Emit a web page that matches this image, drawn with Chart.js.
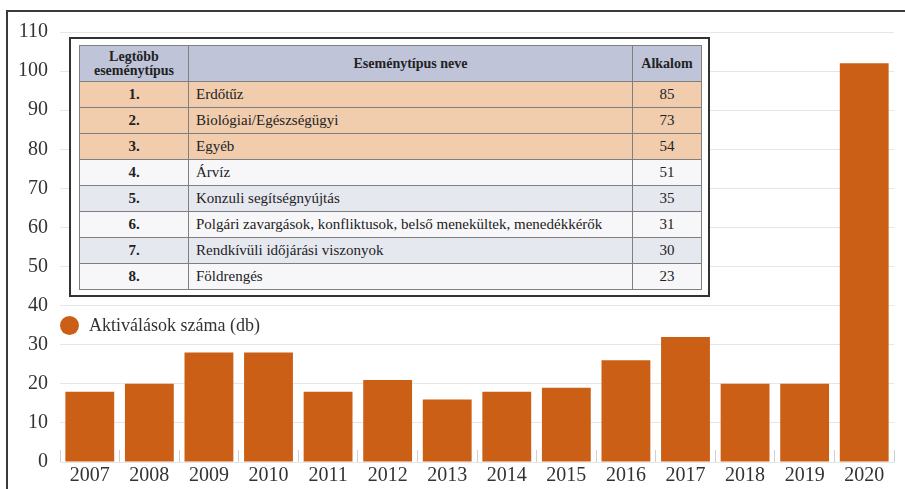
<!DOCTYPE html>
<html>
<head>
<meta charset="utf-8">
<script src="https://cdn.jsdelivr.net/npm/chart.js@4"></script>
<style>
  html, body { margin: 0; padding: 0; background: #fff; }
  body { width: 905px; height: 489px; position: relative; overflow: hidden; font-family: "Liberation Serif", "Times New Roman", serif; }
  #frame { position: absolute; left: 6px; top: 10px; width: 920px; height: 500px; border-left: 2px solid #3a3a3a; border-top: 2px solid #3a3a3a; }
  #wrap { position: absolute; left: 0; top: 0; width: 905px; height: 489px; }
  #legend { position: absolute; left: 60px; top: 315px; height: 20px; display: flex; align-items: center; font-size: 18px; color: #333; }
  #legend .dot { width: 19px; height: 19px; border-radius: 50%; background: #cb5f15; margin-right: 10px; }
  #tablebox { position: absolute; left: 69px; top: 37px; width: 637px; height: 256px; border: 2px solid #333; background: #fff; }
  #events { position: absolute; left: 8px; top: 6px; width: 623px; border-collapse: collapse; font-family: "Liberation Serif", "Times New Roman", serif; font-size: 15px; color: #222; }
  #events td, #events th { border: 1px solid #7f7f7f; padding: 0 7px; height: 25px; font-family: "Liberation Serif", "Times New Roman", serif; }
  #events th { background: #bfc4d9; font-weight: bold; font-size: 14px; line-height: 14px; height: 35px; text-align: center; }
  #events td.rank { font-weight: bold; text-align: center; width: 94px; }
  #events td.cnt { text-align: center; width: 54px; }
  #events tr.top td { background: #f1cdae; }
  #events tr.odd td { background: #f7f7fa; }
  #events tr.even td { background: #e6e8f0; }
</style>
</head>
<body>
<div id="frame"></div>
<div id="wrap"><canvas id="chart" width="905" height="489"></canvas></div>
<div id="legend"><span class="dot"></span><span id="legendText"></span></div>
<div id="tablebox"><table id="events"></table></div>
<script>
// bar chart data
const YEARS = ["2007", "2008", "2009", "2010", "2011", "2012", "2013", "2014", "2015", "2016", "2017", "2018", "2019", "2020"];
const ACTIVATIONS = [18, 20, 28, 28, 18, 21, 16, 18, 19, 26, 32, 20, 20, 102];
const SERIES_LABEL = "Aktiválások száma (db)";

// table data
const TABLE_HEAD = ["Legtöbb<br>eseménytípus", "Eseménytípus neve", "Alkalom"];
const RANKS = ["1.", "2.", "3.", "4.", "5.", "6.", "7.", "8."];
const EVENT_NAMES = [
  "Erdőtűz",
  "Biológiai/Egészségügyi",
  "Egyéb",
  "Árvíz",
  "Konzuli segítségnyújtás",
  "Polgári zavargások, konfliktusok, belső menekültek, menedékkérők",
  "Rendkívüli időjárási viszonyok",
  "Földrengés",
];
const EVENT_COUNTS = [85, 73, 54, 51, 35, 31, 30, 23];

const BAR_COLOR = "#cb5f15";

function buildTable() {
  const table = document.getElementById("events");
  let html = "<tr>" + TABLE_HEAD.map((h) => `<th>${h}</th>`).join("") + "</tr>";
  RANKS.forEach((rank, i) => {
    const cls = i < 3 ? "top" : i % 2 === 1 ? "odd" : "even";
    html += `<tr class="${cls}"><td class="rank">${rank}</td><td>${EVENT_NAMES[i]}</td><td class="cnt">${EVENT_COUNTS[i]}</td></tr>`;
  });
  table.innerHTML = html;
  document.getElementById("legendText").textContent = SERIES_LABEL;
}

function initializeChart() {
  new Chart(document.getElementById("chart").getContext("2d"), {
    type: "bar",
    data: {
      labels: YEARS,
      datasets: [
        {
          label: SERIES_LABEL,
          data: ACTIVATIONS,
          backgroundColor: BAR_COLOR,
          barPercentage: 0.82,
          categoryPercentage: 1,
        },
      ],
    },
    options: {
      responsive: false,
      animation: false,
      layout: { padding: { top: 32, right: 11, left: 0, bottom: 0 } },
      plugins: {
        legend: { display: false },
        tooltip: { enabled: false },
      },
      scales: {
        x: {
          grid: {
            offset: true,
            drawOnChartArea: false,
            tickLength: -12,
            color: "#d0d0d0",
          },
          border: { color: "#e6e6e6" },
          ticks: {
            padding: 14,
            color: "#333",
            font: { family: "Liberation Serif", size: 20 },
            maxRotation: 0,
          },
          afterFit: (scale) => { scale.height = 27; },
        },
        y: {
          min: 0,
          max: 110,
          ticks: {
            stepSize: 10,
            padding: 12,
            color: "#333",
            font: { family: "Liberation Serif", size: 20 },
          },
          grid: { color: "#e6e6e6", drawTicks: false },
          border: { display: false },
          afterFit: (scale) => { scale.width = 60; },
        },
      },
    },
  });
}

buildTable();
initializeChart();
</script>
</body>
</html>
